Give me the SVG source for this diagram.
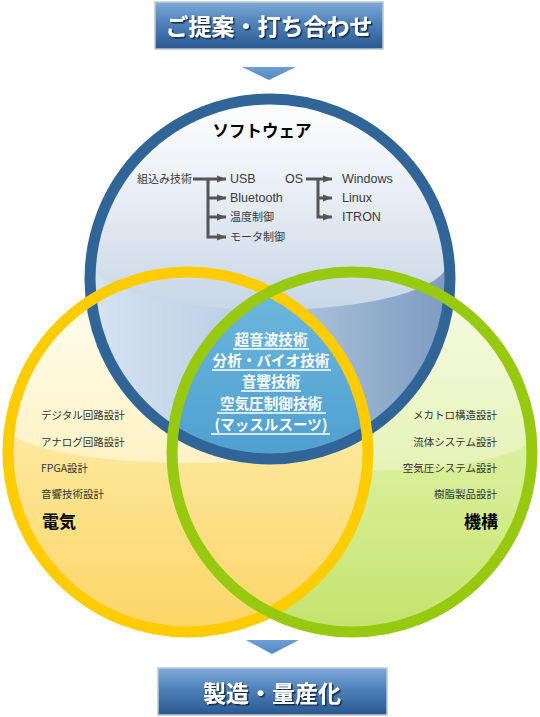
<svg xmlns="http://www.w3.org/2000/svg" width="540" height="717" viewBox="0 0 540 717">
<defs>
<style>
.jp{font-family:"Noto Sans CJK JP","Noto Sans",sans-serif;}
.lat{font-family:"Liberation Sans","Noto Sans CJK JP",sans-serif;font-size:12.5px;fill:#3a3a3a;}
.smjp{font-family:"Noto Sans CJK JP",sans-serif;font-size:11px;fill:#3a3a3a;}
.side{font-family:"Noto Sans CJK JP",sans-serif;font-size:10.5px;fill:#333;}
.head{font-family:"Noto Sans CJK JP",sans-serif;font-size:17px;font-weight:bold;fill:#000;}
.ctr{font-family:"Noto Sans CJK JP",sans-serif;font-size:14.6px;font-weight:bold;fill:#fff;text-anchor:middle;}
.ul{stroke:#fff;stroke-width:1.3;}
.btxt{font-family:"Noto Sans CJK JP",sans-serif;font-size:23px;font-weight:bold;fill:#fff;text-anchor:middle;}
.brect{fill:url(#gBan);stroke:#c4c8cc;stroke-width:1.5;}
.tree{fill:none;stroke:#555;stroke-width:3;stroke-linejoin:miter;}
.ring{fill:none;stroke-width:11;}
</style>
<linearGradient id="gBan" x1="0" y1="0" x2="0" y2="1">
<stop offset="0" stop-color="#7eaad8"/>
<stop offset="0.45" stop-color="#4f81b8"/>
<stop offset="1" stop-color="#2a5890"/>
</linearGradient>
<linearGradient id="gArr" x1="0" y1="0" x2="0" y2="1"><stop offset="0" stop-color="#6f9fd4"/><stop offset="1" stop-color="#5488c4"/></linearGradient>
<linearGradient id="gBTop" gradientUnits="userSpaceOnUse" x1="0" y1="94" x2="0" y2="310"><stop offset="0" stop-color="#ffffff"/><stop offset="0.35" stop-color="#eef3f8"/><stop offset="1" stop-color="#c8d6e6"/></linearGradient>
<linearGradient id="gBLow" gradientUnits="userSpaceOnUse" x1="90" y1="0" x2="450" y2="0"><stop offset="0" stop-color="#d6e4f2"/><stop offset="0.45" stop-color="#b9cde3"/><stop offset="1" stop-color="#7b9bc0"/></linearGradient>
<linearGradient id="gYTop" gradientUnits="userSpaceOnUse" x1="0" y1="270" x2="0" y2="463"><stop offset="0" stop-color="#fffef4"/><stop offset="1" stop-color="#fff2c4"/></linearGradient>
<linearGradient id="gYLow" gradientUnits="userSpaceOnUse" x1="0" y1="430" x2="0" y2="640"><stop offset="0" stop-color="#fde9a0"/><stop offset="1" stop-color="#fdd462"/></linearGradient>
<linearGradient id="gGTop" gradientUnits="userSpaceOnUse" x1="0" y1="270" x2="0" y2="471"><stop offset="0" stop-color="#f8fce8"/><stop offset="1" stop-color="#e5f3b6"/></linearGradient>
<linearGradient id="gGLow" gradientUnits="userSpaceOnUse" x1="0" y1="440" x2="0" y2="640"><stop offset="0" stop-color="#dcf1a0"/><stop offset="1" stop-color="#c2e36a"/></linearGradient>
<linearGradient id="gCtr" gradientUnits="userSpaceOnUse" x1="0" y1="290" x2="0" y2="460"><stop offset="0" stop-color="#6cb7de"/><stop offset="1" stop-color="#4f9fcf"/></linearGradient>
<filter id="sh" x="-10%" y="-30%" width="130%" height="170%"><feDropShadow dx="1.5" dy="1.5" stdDeviation="0.7" flood-color="#0f2440" flood-opacity="0.9"/></filter>
<marker id="ah" viewBox="0 0 10 10" refX="10" refY="5" markerWidth="3" markerHeight="3" orient="auto" markerUnits="strokeWidth"><path d="M0,1 L10,5 L0,9 z" fill="#555"/></marker>
<clipPath id="cB"><circle cx="270" cy="279" r="180"/></clipPath>
<clipPath id="cY"><circle cx="188" cy="452" r="180"/></clipPath>
<clipPath id="cG"><circle cx="352" cy="452" r="180"/></clipPath>
</defs>

<rect width="540" height="717" fill="#ffffff"/>

<g id="venn-fills">
  <circle cx="352" cy="452" r="180" fill="url(#gGLow)"/>
  <g clip-path="url(#cG)">
    <rect x="170" y="270" width="370" height="165" fill="url(#gGTop)"/>
    <ellipse cx="352" cy="435" rx="182" ry="36" fill="url(#gGTop)"/>
  </g>
  <circle cx="188" cy="452" r="180" fill="url(#gYLow)"/>
  <g clip-path="url(#cY)">
    <rect x="5" y="270" width="370" height="155" fill="url(#gYTop)"/>
    <ellipse cx="188" cy="425" rx="182" ry="38" fill="url(#gYTop)"/>
  </g>
  <circle cx="270" cy="279" r="180" fill="url(#gBLow)"/>
  <g clip-path="url(#cB)">
    <rect x="85" y="94" width="370" height="168" fill="url(#gBTop)"/>
    <ellipse cx="270" cy="262" rx="178" ry="48" fill="url(#gBTop)"/>
  </g>
  <g clip-path="url(#cB)"><g clip-path="url(#cY)">
    <circle cx="352" cy="452" r="180" fill="url(#gCtr)"/>
  </g></g>
</g>

<g id="node-software">
  <circle class="ring" cx="270" cy="279" r="180" stroke="#316597"/>
  <text class="jp" x="262" y="137" font-size="16.5" font-weight="bold" fill="#000" text-anchor="middle">ソフトウェア</text>
  <text class="smjp" x="137" y="183">組込み技術</text>
  <text class="lat" x="230" y="183">USB</text>
  <text class="lat" x="230" y="202">Bluetooth</text>
  <text class="smjp" x="230" y="221">温度制御</text>
  <text class="smjp" x="230" y="241">モータ制御</text>
  <text class="lat" x="285" y="183">OS</text>
  <text class="lat" x="342" y="183">Windows</text>
  <text class="lat" x="342" y="202">Linux</text>
  <text class="lat" x="342" y="221">ITRON</text>
</g>

<g id="node-electric">
  <circle class="ring" cx="188" cy="452" r="180" stroke="#ffcc00"/>
  <text class="side" x="41" y="419">デジタル回路設計</text>
  <text class="side" x="41" y="446">アナログ回路設計</text>
  <text class="side" x="41" y="472">FPGA設計</text>
  <text class="side" x="41" y="498">音響技術設計</text>
  <text class="head" x="42" y="528">電気</text>
</g>

<g id="node-mechanism">
  <circle class="ring" cx="352" cy="452" r="180" stroke="#96c90f"/>
  <g text-anchor="end">
    <text class="side" x="497" y="419">メカトロ構造設計</text>
    <text class="side" x="497" y="446">流体システム設計</text>
    <text class="side" x="497" y="472">空気圧システム設計</text>
    <text class="side" x="497" y="498">樹脂製品設計</text>
    <text class="head" x="498" y="528">機構</text>
  </g>
</g>

<g id="node-center">
  <text class="ctr" x="271" y="345">超音波技術</text>
  <line class="ul" x1="233" y1="349" x2="309" y2="349"/>
  <text class="ctr" x="271" y="366">分析・バイオ技術</text>
  <line class="ul" x1="212" y1="370" x2="331" y2="370"/>
  <text class="ctr" x="271" y="387">音響技術</text>
  <line class="ul" x1="241" y1="391" x2="301" y2="391"/>
  <text class="ctr" x="271" y="409">空気圧制御技術</text>
  <line class="ul" x1="217" y1="413" x2="326" y2="413"/>
  <text class="ctr" x="271" y="430">(マッスルスーツ)</text>
  <line class="ul" x1="211" y1="434" x2="330" y2="434"/>
</g>

<g id="banner-top">
  <rect class="brect" x="155" y="2" width="228" height="47"/>
  <text class="btxt" x="269" y="35" filter="url(#sh)">ご提案・打ち合わせ</text>
</g>

<g id="banner-bottom">
  <rect class="brect" x="158" y="668" width="229" height="47"/>
  <text class="btxt" x="272" y="702" filter="url(#sh)">製造・量産化</text>
</g>

<g id="connectors">
  <polygon points="242,67 296,67 269,80" fill="url(#gArr)"/>
  <polygon points="246,640 299,640 272,654" fill="url(#gArr)"/>
  <path class="tree" d="M193,179 H226" marker-end="url(#ah)"/>
  <path class="tree" d="M208,179 V237 H226" marker-end="url(#ah)"/>
  <path class="tree" d="M208,198 H226" marker-end="url(#ah)"/>
  <path class="tree" d="M208,217 H226" marker-end="url(#ah)"/>
  <path class="tree" d="M306,179 H332" marker-end="url(#ah)"/>
  <path class="tree" d="M318,179 V217 H332" marker-end="url(#ah)"/>
  <path class="tree" d="M318,198 H332" marker-end="url(#ah)"/>
</g>
</svg>
